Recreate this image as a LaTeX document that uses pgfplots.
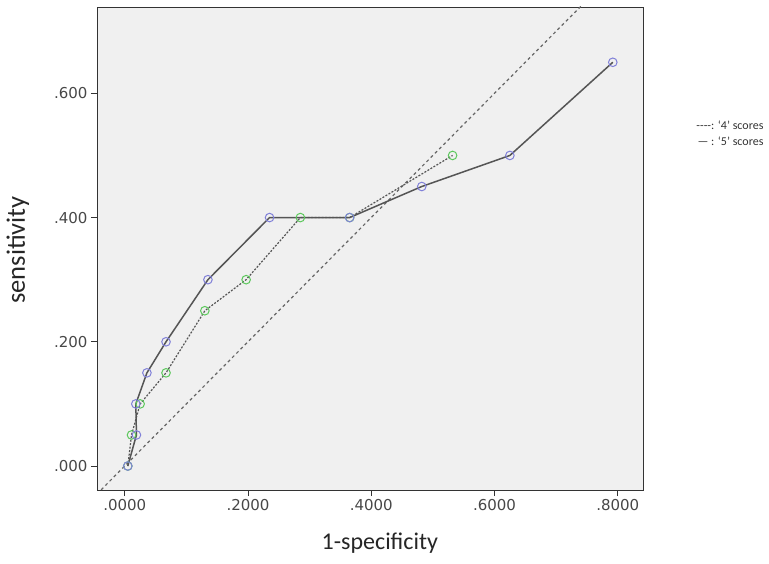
\documentclass[border=0pt]{standalone}
\usepackage{fontspec}
\setmainfont{Carlito}
\newfontfamily\dejavu{DejaVu Sans}
\usepackage{pgfplots}
\pgfplotsset{compat=1.18}
\definecolor{bg}{HTML}{F0F0F0}
\definecolor{lineg}{HTML}{555555}
\definecolor{mblue}{HTML}{8080D8}
\definecolor{mgreen}{HTML}{5CC85C}

\begin{document}
\begin{tikzpicture}[x=1pt,y=1pt]
\begin{axis}[
  at={(0,0)}, anchor=south west,
  scale only axis, width=546pt, height=483pt,
  xmin=-0.045, xmax=0.841, ymin=-0.0386, ymax=0.739,
  axis background/.style={fill=bg},
  axis line style={black!80, line width=0.8pt},
  xtick={0,0.2,0.4,0.6,0.8}, xticklabels={.0000,.2000,.4000,.6000,.8000},
  ytick={0,0.2,0.4,0.6}, yticklabels={.000,.200,.400,.600},
  tick align=outside, major tick length=6pt,
  xtick pos=bottom, ytick pos=left,
  tick style={black!80, line width=0.8pt},
  ticklabel style={font=\dejavu\fontsize{15}{15}\selectfont, text=black!72},
  xlabel={1-specificity}, ylabel={sensitivity},
  label style={text=black!85},
  xlabel style={font=\fontsize{24}{24}\selectfont, at={(rel axis cs:0.518,-0.110)}, anchor=center},
  ylabel style={font=\fontsize{26.5}{26.5}\selectfont, at={(rel axis cs:-0.145,0.497)}, anchor=center},
]
% reference line y = x
\addplot[lineg!90, line width=1.2pt, dash pattern=on 3pt off 3pt]
  coordinates {(-0.1,-0.1) (0.9,0.9)};
% '4' scores
\addplot[lineg, line width=1.2pt, dash pattern=on 2pt off 1.5pt,
  mark=o, mark size=4.3pt, mark options={draw=mgreen, solid, line width=1pt}]
  table {
  x y
  0.005 0.00
  0.011 0.05
  0.025 0.10
  0.067 0.15
  0.130 0.25
  0.197 0.30
  0.285 0.40
  0.365 0.40
  0.532 0.50
  };
% '5' scores
\addplot[lineg, line width=1.5pt,
  mark=o, mark size=4.3pt, mark options={draw=mblue, solid, line width=1pt}]
  table {
  x y
  0.005 0.00
  0.019 0.05
  0.018 0.10
  0.036 0.15
  0.067 0.20
  0.135 0.30
  0.235 0.40
  0.365 0.40
  0.482 0.45
  0.625 0.50
  0.792 0.65
  };
\end{axis}
\node[anchor=east, font=\fontsize{12}{12}\selectfont, text=black!80]
  at (670,365) {-{}-{}-{}-: ‘4’ scores};
\node[anchor=east, font=\fontsize{12}{12}\selectfont, text=black!80]
  at (670,349) {— : ‘5’ scores};
\pgfresetboundingbox
\path (-97,-73) rectangle (672,490);
\end{tikzpicture}
\end{document}
